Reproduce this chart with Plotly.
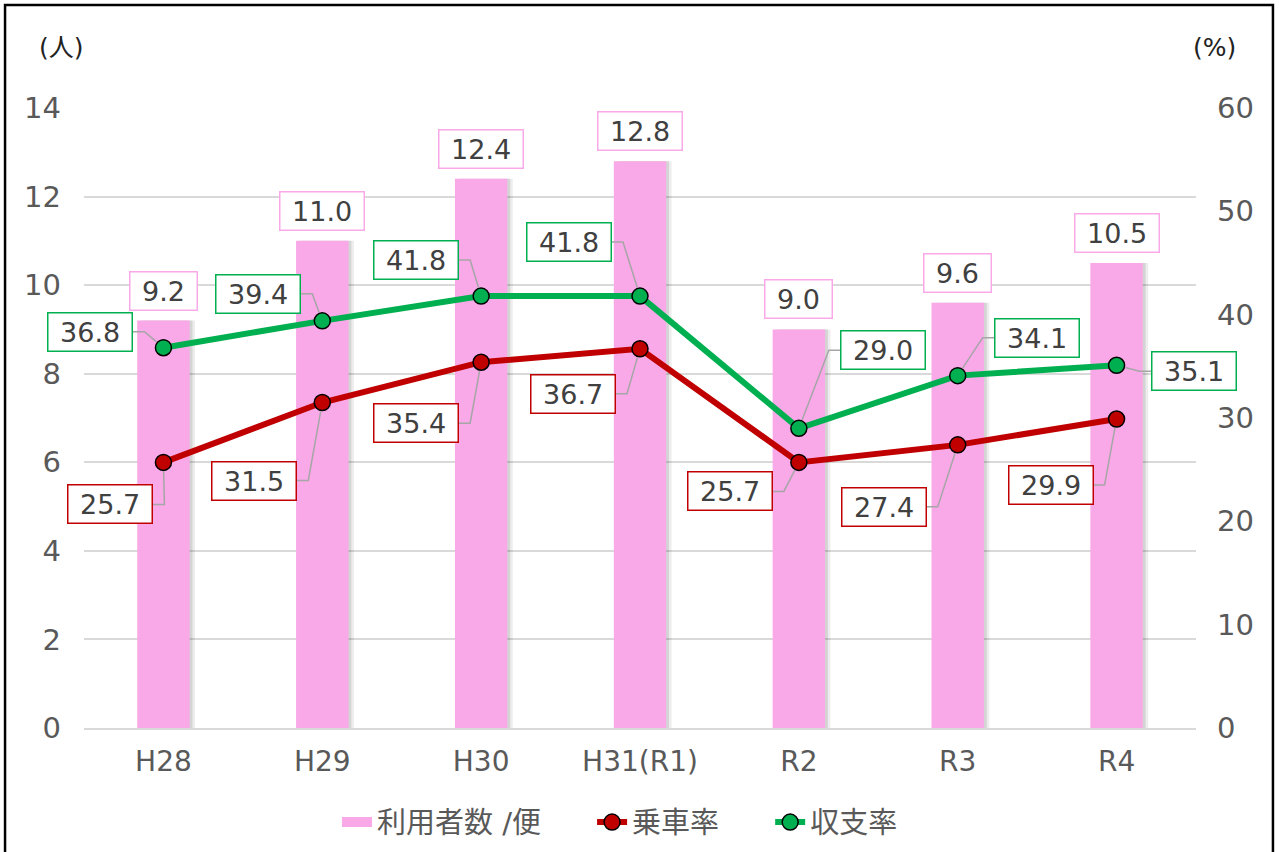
import math
import plotly.graph_objects as go

# ---------------- data ----------------
categories = ["H28", "H29", "H30", "H31(R1)", "R2", "R3", "R4"]
users_per_trip = [9.2, 11.0, 12.4, 12.8, 9.0, 9.6, 10.5]      # 利用者数 /便 (人)
ride_rate = [25.7, 31.5, 35.4, 36.7, 25.7, 27.4, 29.9]          # 乗車率 (%)
balance_rate = [36.8, 39.4, 41.8, 41.8, 29.0, 34.1, 35.1]       # 収支率 (%)
left_ticks = [0, 2, 4, 6, 8, 10, 12, 14]
right_ticks = [0, 10, 20, 30, 40, 50, 60]
series_names = ["利用者数 /便", "乗車率", "収支率"]

# ---------------- styles ----------------
PINK = "#F9A8E8"
RED = "#C00000"
GREEN = "#00B050"
TXT = "#404040"
TICK = "#595959"
FONT = "DejaVu Sans, Noto Sans CJK JP, sans-serif"
NB = "\u00a0"

# label offsets in screen pixels (dx right+, dy down+)
green_off = [(-73, -16), (-64, -27), (-65, -36), (-71, -54), (84, -78), (79, -38), (77, 6)]
red_off = [(-53, 42), (-68, 78), (-65, 61), (-67, 45), (-69, 29), (-74, 62), (-66, 66)]

xs = list(range(len(categories)))

fig = go.Figure()

# bar shadow
for k, a in [(0.018, 0.10), (0.034, 0.07)]:
    fig.add_trace(go.Bar(x=xs, y=users_per_trip, width=0.33, offset=-0.165 + k,
                         marker=dict(color=f"rgba(0,0,0,{a})", line=dict(width=0)),
                         showlegend=False, hoverinfo="skip", yaxis="y"))
fig.add_trace(go.Bar(x=xs, y=users_per_trip, width=0.33, offset=-0.165,
                     marker=dict(color=PINK, line=dict(width=0)),
                     showlegend=False, name=series_names[0], yaxis="y"))
# legend proxy for bars
fig.add_trace(go.Scatter(x=[None], y=[None], mode="lines", name=series_names[0] + NB * 5,
                         line=dict(color=PINK, width=14)))

fig.add_trace(go.Scatter(x=xs, y=ride_rate, mode="lines+markers", name=series_names[1] + NB * 5,
                         yaxis="y2", line=dict(color=RED, width=6),
                         marker=dict(size=16, color=RED, line=dict(color="black", width=1.5))))
fig.add_trace(go.Scatter(x=xs, y=balance_rate, mode="lines+markers", name=series_names[2],
                         yaxis="y2", line=dict(color=GREEN, width=6),
                         marker=dict(size=16, color=GREEN, line=dict(color="black", width=1.5))))

annotations = []
shapes = []

# bar value labels
for i, v in enumerate(users_per_trip):
    annotations.append(dict(x=i, y=v, xref="x", yref="y", yshift=30, yanchor="middle",
                            text=NB + f"{v:.1f}" + NB, showarrow=False,
                            font=dict(family=FONT, size=27, color=TXT),
                            bordercolor=PINK, borderwidth=1.5, borderpad=3, bgcolor="white"))


def add_line_labels(values, offsets, color):
    for i, v in enumerate(values):
        dx, dy = offsets[i]
        half, stub, r = 42, 12, 9
        if dx < 0:
            ex = dx + half
            elx = ex + stub
        else:
            ex = dx - half
            elx = ex - stub
        ely = dy
        L = math.hypot(elx, ely)
        fx, fy = elx * r / L, ely * r / L
        path = f"M{ex},{-dy} L{elx},{-ely} L{fx},{-fy}"
        shapes.append(dict(type="path", xref="x", yref="y2", xsizemode="pixel", ysizemode="pixel",
                           xanchor=i, yanchor=v, path=path, layer="above",
                           line=dict(color="#A6A6A6", width=1.5)))
        annotations.append(dict(x=i, y=v, xref="x", yref="y2", xshift=dx, yshift=-dy,
                                xanchor="center", yanchor="middle",
                                text=NB + f"{v:.1f}" + NB, showarrow=False,
                                font=dict(family=FONT, size=27, color=TXT),
                                bordercolor=color, borderwidth=1.5, borderpad=3, bgcolor="white"))


add_line_labels(balance_rate, green_off, GREEN)
add_line_labels(ride_rate, red_off, RED)

# axis unit labels
annotations.append(dict(x=-0.0198, y=1.097, xref="paper", yref="paper", text="(人)", showarrow=False,
                        font=dict(family=FONT, size=25, color="#222222"), xanchor="center", yanchor="middle"))
annotations.append(dict(x=1.017, y=1.097, xref="paper", yref="paper", text="(%)", showarrow=False,
                        font=dict(family=FONT, size=25, color="#222222"), xanchor="center", yanchor="middle"))

# outer frame
shapes.append(dict(type="rect", xref="paper", yref="paper", x0=-0.0710, x1=1.0692, y0=-0.25, y1=1.166,
                   line=dict(color="black", width=2.5), fillcolor="rgba(0,0,0,0)", layer="below"))

fig.update_layout(
    width=1279, height=852,
    margin=dict(l=84, r=83, t=108, b=124, autoexpand=False),
    paper_bgcolor="white", plot_bgcolor="white",
    barmode="overlay",
    font=dict(family=FONT, color=TICK),
    showlegend=True,
    legend=dict(orientation="h", x=0.482, xanchor="center", y=-0.152, yanchor="middle",
                font=dict(family=FONT, size=29, color=TICK),
                bgcolor="rgba(0,0,0,0)"),
    xaxis=dict(range=[-0.5, len(categories) - 0.5], tickmode="array", tickvals=xs, ticktext=categories,
               showgrid=False, zeroline=False, showline=True, linecolor="#D9D9D9", linewidth=1.5,
               ticks="", tickfont=dict(family=FONT, size=28, color=TICK), ticklabelstandoff=8,
               automargin=False),
    yaxis=dict(range=[0, 14], tickmode="array", tickvals=left_ticks, showgrid=True,
               gridcolor="#D9D9D9", gridwidth=1.5, zeroline=False, showline=False, ticks="",
               tickfont=dict(family=FONT, size=29, color=TICK), ticklabelstandoff=22,
               automargin=False),
    yaxis2=dict(range=[0, 60], tickmode="array", tickvals=right_ticks, overlaying="y", side="right",
                showgrid=False, zeroline=False, showline=False, ticks="",
                tickfont=dict(family=FONT, size=29, color=TICK), ticklabelstandoff=20,
                automargin=False),
    annotations=annotations,
    shapes=shapes,
)

fig.write_html("out.html", config={"displayModeBar": False},
               post_script="document.body.style.margin='0';document.body.style.overflow='hidden';")
